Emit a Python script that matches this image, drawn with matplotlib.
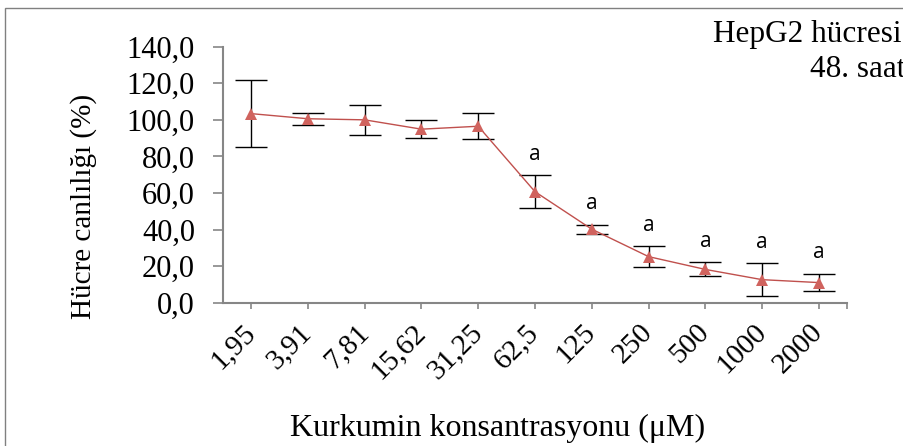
import matplotlib.pyplot as plt
import matplotlib.patches as mpatches
import matplotlib.transforms as mtransforms
import numpy as np

# data
konsantrasyon = ['1,95', '3,91', '7,81', '15,62', '31,25', '62,5',
                 '125', '250', '500', '1000', '2000']
canlilik = [103.4, 100.6, 100.0, 94.9, 96.5, 60.7, 40.2, 25.2, 18.2, 12.6, 11.0]
hata = [18.5, 3.2, 8.2, 5.0, 7.2, 9.0, 2.5, 5.7, 3.8, 9.0, 4.7]
anlamlilik = ['', '', '', '', '', 'a', 'a', 'a', 'a', 'a', 'a']
yticks = [0, 20, 40, 60, 80, 100, 120, 140]

plt.rcParams['font.family'] = 'Liberation Serif'
axis_gray = '#868686'
line_red = '#C0504D'
marker_red = '#D0635E'

W, H = 904, 446
fig = plt.figure(figsize=(W / 100, H / 100), dpi=100)
ax = fig.add_axes([222.7 / W, 1 - 302.7 / H, (847.3 - 222.7) / W, (302.7 - 46.7) / H])

# outer chart frame (cut off on right/bottom in the reference)
fig.patches.append(mpatches.Rectangle((5 / W, -0.1), 1.2, 1 - 8 / H + 0.1,
                                      transform=fig.transFigure, fill=False,
                                      edgecolor='#808080', linewidth=1.0))

x = np.arange(len(konsantrasyon))
ax.errorbar(x, canlilik, yerr=hata, fmt='none', ecolor='black',
            elinewidth=1.0, capsize=11.5, capthick=1.0, zorder=2)
ax.plot(x, canlilik, '-', color=line_red, linewidth=1.0, zorder=3)
ax.plot(x, canlilik, '^', color=marker_red, markersize=8.5,
        markeredgewidth=0, zorder=4)

for xi, yi, e, lab in zip(x, canlilik, hata, anlamlilik):
    if lab:
        ax.text(xi, yi + e + 8.5, lab, ha='center', va='baseline',
                fontsize=15, family='Open Sans')

ax.set_xlim(-0.5, len(konsantrasyon) - 0.5)
ax.set_ylim(0, 140)
ax.set_yticks(yticks)
ax.set_yticklabels([f'{v:.1f}'.replace('.', ',') for v in yticks], fontsize=22)
ax.set_xticks(x)
ax.set_xticklabels(konsantrasyon, rotation=45, ha='right', va='center',
                   rotation_mode='anchor', fontsize=21)
ax.set_xticks([len(konsantrasyon) - 0.5], minor=True)

# nudge the rotated labels a bit right/down like Excel places them
shift = mtransforms.ScaledTranslation(4 / 100, -3 / 100, fig.dpi_scale_trans)
for lbl in ax.get_xticklabels():
    lbl.set_transform(lbl.get_transform() + shift)

for side in ['top', 'right']:
    ax.spines[side].set_visible(False)
for side in ['left', 'bottom']:
    ax.spines[side].set_color(axis_gray)
    ax.spines[side].set_linewidth(1.5)

ax.tick_params(axis='y', direction='out', length=7, width=1.2,
               color=axis_gray, pad=13)
ax.tick_params(axis='x', which='both', direction='out', length=4.5, width=1.2,
               color=axis_gray, pad=14)

fig.text(84 / W, 1 - 206 / H, 'Hücre canlılığı (%)', rotation=90,
         ha='center', va='center', fontsize=21)
fig.text(498 / W, 1 - 428 / H, 'Kurkumin konsantrasyonu (μM)',
         ha='center', va='center', fontsize=23)
fig.text(713 / W, 1 - 42 / H, 'HepG2 hücresi', ha='left', va='baseline',
         fontsize=22.5)
fig.text(810 / W, 1 - 76.7 / H, '48. saat', ha='left', va='baseline',
         fontsize=22.5)

fig.savefig('out.png', dpi=100)
